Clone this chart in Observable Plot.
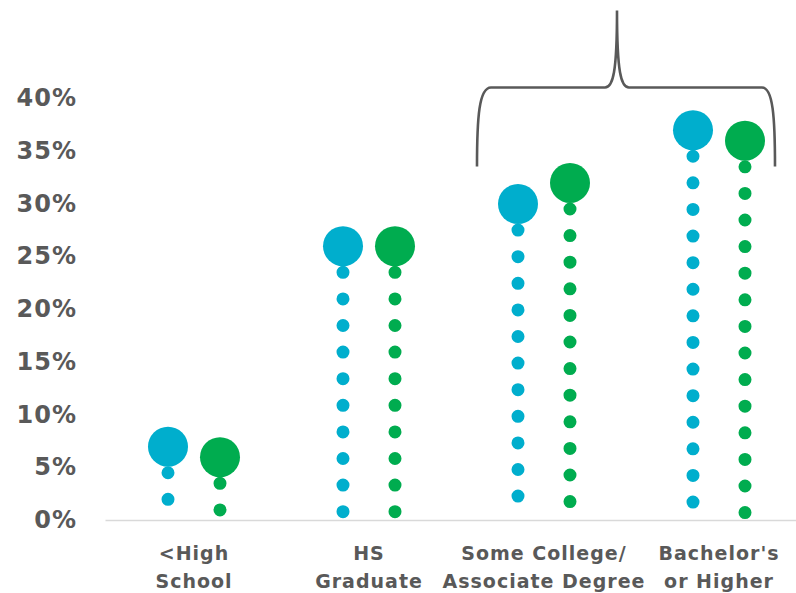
<!DOCTYPE html>
<html>
<head>
<meta charset="utf-8">
<script src="https://cdn.jsdelivr.net/npm/d3@7"></script>
<script src="https://cdn.jsdelivr.net/npm/@observablehq/plot@0.6"></script>
<style>
  html, body { margin: 0; padding: 0; background: #fff; overflow: hidden; }
  #chart { width: 796px; height: 593px; overflow: hidden; }
</style>
</head>
<body>
<div id="chart"></div>
<script>
// ---- data ----
const categories = ["<High\nSchool", "HS\nGraduate", "Some College/\nAssociate Degree", "Bachelor's\nor Higher"];
const blueValues = [7, 26, 30, 37];
const greenValues = [6, 26, 32, 36];
const yTicks = [0, 5, 10, 15, 20, 25, 30, 35, 40];
// brace annotation spans these two categories (y in % units)
const braceCategories = ["Some College/\nAssociate Degree", "Bachelor's\nor Higher"];
const braceLevels = [33.5, 41, 48.3]; // bottom of legs, horizontal bar, peak

const blueData = categories.map((c, i) => ({cat: c, v: blueValues[i]}));
const greenData = categories.map((c, i) => ({cat: c, v: greenValues[i]}));

const BLUE = "#00AECD";
const GREEN = "#00AC4F";
const GREY = "#595959";
const OFF = 26;
const DOT_GAP = "0 26.6";

function braceMark(index, scales) {
  const x = scales.x, y = scales.y;
  const bw = x.bandwidth ? x.bandwidth() : 0;
  const c1 = x(braceCategories[0]) + bw / 2;
  const c2 = x(braceCategories[1]) + bw / 2;
  const L = c1 - 66.5, R = c2 + 56.5, P = c1 + 73.5;
  const yb = y(braceLevels[0]), yh = y(braceLevels[1]), yp = y(braceLevels[2]);
  const d = `M${L},${yb} C${L},${yh + 30} ${L + 2},${yh} ${L + 14},${yh}`
    + ` L${P - 12},${yh} C${P - 4},${yh} ${P},${yh - 15} ${P},${yp}`
    + ` C${P},${yh - 15} ${P + 4},${yh} ${P + 12},${yh}`
    + ` L${R - 13},${yh} C${R - 2},${yh} ${R},${yh + 30} ${R},${yb}`;
  const g = d3.create("svg:g");
  g.append("path").attr("d", d).attr("fill", "none")
    .attr("stroke", GREY).attr("stroke-width", 2.6);
  return g.node();
}

const chart = Plot.plot({
  width: 796,
  height: 593,
  marginLeft: 105.5,
  marginRight: -9.5,
  marginTop: 98,
  marginBottom: 73,
  style: {fontFamily: "DejaVu Sans", background: "#fff", overflow: "visible", letterSpacing: "1px"},
  x: {type: "band", domain: categories, padding: 0},
  y: {domain: [0, 40]},
  marks: [
    Plot.ruleY([0], {stroke: "#d9d9d9", strokeWidth: 1.5}),
    Plot.ruleX(blueData, {x: "cat", y1: "v", y2: 0, dx: -OFF, stroke: BLUE, strokeWidth: 13,
      strokeLinecap: "round", strokeDasharray: DOT_GAP}),
    Plot.ruleX(greenData, {x: "cat", y1: "v", y2: 0, dx: OFF, stroke: GREEN, strokeWidth: 13,
      strokeLinecap: "round", strokeDasharray: DOT_GAP}),
    Plot.dot(blueData, {x: "cat", y: "v", dx: -OFF, r: 20, fill: BLUE, stroke: "none"}),
    Plot.dot(greenData, {x: "cat", y: "v", dx: OFF, r: 20, fill: GREEN, stroke: "none"}),
    Plot.axisY(yTicks, {tickSize: 0, tickPadding: 29, tickFormat: d => d + "%", fontSize: 24,
      fontWeight: "bold", fill: GREY, label: null}),
    Plot.axisX({tickSize: 0, tickPadding: 19, fontSize: 19, fontWeight: "bold", fill: GREY,
      lineHeight: 1.5, label: null}),
    braceMark
  ]
});
document.getElementById("chart").appendChild(chart);
</script>
</body>
</html>
